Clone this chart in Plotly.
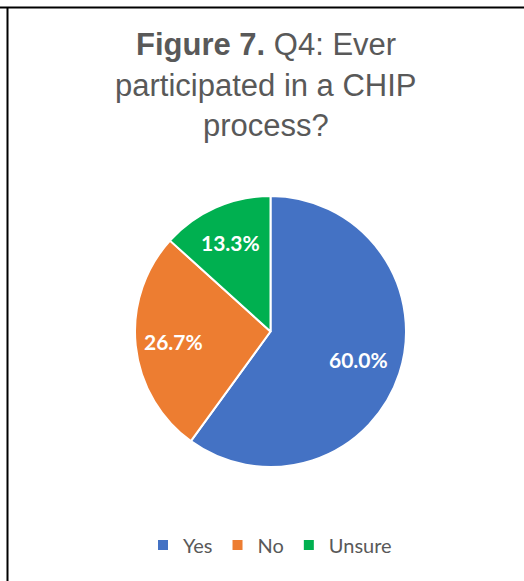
import math
import plotly.graph_objects as go

# Survey responses to Q4
categories = ["Yes", "No", "Unsure"]
shares = [60.0, 26.7, 13.3]
colors = ["#4472C4", "#ED7D31", "#00B050"]

title_lines = ["<b>Figure 7.</b> Q4: Ever", "participated in a CHIP", "process?"]

W, H = 524, 581

# Pie geometry in pixels
CX, CY, R = 270.5, 331.5, 135.5
# how far out from the centre each data label sits (fraction of radius)
label_radius = [0.68, 0.72, 0.72]


def px_x(x):
    return x / W


def px_y(y):
    return 1 - y / H


fig = go.Figure()

fig.add_trace(go.Pie(
    labels=categories,
    values=shares,
    marker=dict(colors=colors, line=dict(color="white", width=2)),
    sort=False,
    direction="clockwise",
    rotation=0,
    textinfo="none",
    hoverinfo="label+value",
    domain=dict(x=[px_x(CX - R), px_x(CX + R)], y=[px_y(CY + R), px_y(CY - R)]),
))

# Data labels placed at the middle angle of each slice
total = sum(shares)
cum = 0.0
for share, frac in zip(shares, label_radius):
    mid = math.radians((cum + share / 2) / total * 360)
    cum += share
    lx = CX + frac * R * math.sin(mid)
    ly = CY - frac * R * math.cos(mid)
    fig.add_annotation(
        text=f"{share:.1f}%", x=px_x(lx), y=px_y(ly),
        xref="paper", yref="paper", xanchor="center", yanchor="middle",
        showarrow=False,
        font=dict(family="Lato", size=21, color="white", weight="bold"),
    )

# Title, one annotation per line
title_centers = [44.7, 85.2, 125.7]
for line, yc in zip(title_lines, title_centers):
    fig.add_annotation(
        text=line, x=px_x(266.5), y=px_y(yc), xref="paper", yref="paper",
        xanchor="center", yanchor="middle", showarrow=False,
        font=dict(family="Liberation Sans, Arial", size=31, color="#595959"),
    )

# Frame lines along the top and left
fig.add_shape(type="line", xref="paper", yref="paper",
              x0=0, x1=1, y0=px_y(7.5), y1=px_y(7.5),
              line=dict(color="black", width=2))
fig.add_shape(type="line", xref="paper", yref="paper",
              x0=px_x(7.5), x1=px_x(7.5), y0=px_y(7.5), y1=0,
              line=dict(color="black", width=2))

fig.update_layout(
    width=W, height=H,
    margin=dict(l=0, r=0, t=0, b=0),
    paper_bgcolor="white",
    plot_bgcolor="white",
    showlegend=True,
    legend=dict(
        orientation="h", x=px_x(270), xanchor="center",
        y=px_y(545), yanchor="middle",
        font=dict(family="Lato", size=20, color="#595959"),
        itemwidth=30,
    ),
)

fig.write_html("out.html")
